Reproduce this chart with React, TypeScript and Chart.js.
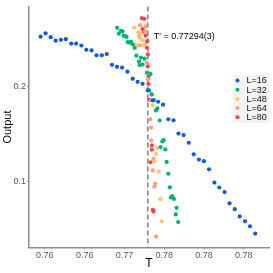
import { useEffect, useRef } from "react";
import { Chart, registerables } from "chart.js";

Chart.register(...registerables);

const T16 = [0.75947,0.76009,0.76074,0.76136,0.76202,0.76264,0.76331,0.76393,0.76459,0.76521,0.76587,0.76649,0.76716,0.76778,0.76844,0.76906,0.76971,0.77038,0.77104,0.77166,0.77228,0.77294,0.77356,0.77423,0.77485,0.77551,0.77617,0.77679,0.77743,0.77808,0.7787,0.77936,0.77998,0.78063,0.7813,0.78192,0.78258,0.7832,0.78386,0.78448,0.78515,0.78577,0.78643];
const O16 = [0.2525,0.2560,0.2519,0.2483,0.2491,0.2498,0.2452,0.2452,0.2432,0.2387,0.2380,0.2328,0.2328,0.2342,0.2228,0.2207,0.2200,0.2156,0.2083,0.2050,0.2029,0.1959,0.1855,0.1840,0.1809,0.1656,0.1645,0.1505,0.1490,0.1409,0.1287,0.1232,0.1215,0.1129,0.0990,0.0938,0.0890,0.0772,0.0710,0.0634,0.0582,0.0530,0.0454];

const T32 = [0.76909,0.76931,0.76955,0.76976,0.76989,0.77014,0.77026,0.77042,0.77063,0.77083,0.77104,0.77129,0.7715,0.77182,0.77191,0.77207,0.77228,0.77253,0.77282,0.77328,0.77311,0.77344,0.77371,0.77396,0.77414,0.77443,0.77455,0.77476,0.77493,0.77514,0.7753,0.77551,0.7757,0.77584,0.77601,0.77622,0.77644,0.77656,0.77675];
const O32 = [0.2618,0.2556,0.2587,0.2581,0.2535,0.2529,0.2522,0.2467,0.2463,0.2470,0.2444,0.2408,0.2325,0.2262,0.2226,0.2304,0.2231,0.2294,0.2145,0.2131,0.1959,0.1917,0.1858,0.1749,0.1770,0.1643,0.1363,0.1422,0.1436,0.1339,0.1207,0.1083,0.0940,0.0834,0.0849,0.0818,0.0655,0.0724,0.0575];

const T48 = [0.77123,0.77175,0.77204,0.77195,0.77228,0.77148,0.77241,0.77315,0.77356,0.77418,0.77398,0.77377,0.7743,0.77452,0.77468];
const O48 = [0.2620,0.2571,0.2553,0.2506,0.2488,0.2439,0.2436,0.2138,0.1803,0.1355,0.1290,0.1215,0.1106,0.0815,0.0582];

const T64 = [0.77197,0.77266,0.77187,0.77262,0.77191,0.77257,0.77282,0.77297,0.77336,0.77324,0.77336,0.77336,0.77365,0.77356,0.77386,0.77377,0.77398];
const O64 = [0.2646,0.2633,0.2535,0.2581,0.2432,0.2442,0.2252,0.2076,0.1855,0.1656,0.1567,0.1433,0.1239,0.1118,0.0979,0.0948,0.0421];

const T80 = [0.7722,0.77249,0.77228,0.77244,0.77266,0.77287,0.77282,0.77294,0.77294,0.77303,0.77303,0.7734,0.77311,0.77344,0.77344,0.77328,0.77356,0.77365];
const O80 = [0.2719,0.2712,0.2605,0.2577,0.2535,0.2477,0.2408,0.2338,0.2211,0.2107,0.2027,0.1917,0.1861,0.1381,0.1336,0.1204,0.0703,0.0686];

const SERIES_LABELS = ["L=16", "L=32", "L=48", "L=64", "L=80"];
const SERIES_COLORS = ["#1459E6", "#00B377", "#FFC566", "#FF9B7D", "#F5424B"];

const X_TICKS = [0.76, 0.765, 0.77, 0.775, 0.78, 0.785];
const X_TICK_LABELS = ["0.76", "0.76", "0.77", "0.78", "0.78", "0.78"];
const Y_TICKS = [0.1, 0.2];
const Y_TICK_LABELS = ["0.1", "0.2"];

const T_PRIME = 0.77294;
const T_PRIME_LABEL = "T' = 0.77294(3)";

const FONT = "'Liberation Sans', Arial, Helvetica, sans-serif";

function pts(xs: number[], ys: number[]) {
  return xs.map((x, i) => ({ x, y: ys[i] }));
}

const overlayPlugin = {
  id: "overlay",
  beforeDatasetsDraw(chart: any) {
    const { ctx, chartArea, scales } = chart;
    const px = scales.x.getPixelForValue(T_PRIME);
    ctx.save();
    ctx.strokeStyle = "#777777";
    ctx.lineWidth = 1.4;
    ctx.setLineDash([5, 3]);
    ctx.beginPath();
    ctx.moveTo(px, chartArea.top);
    ctx.lineTo(px, chartArea.bottom);
    ctx.stroke();
    ctx.setLineDash([]);
    ctx.fillStyle = "#000";
    ctx.font = `9px ${FONT}`;
    ctx.textAlign = "left";
    ctx.textBaseline = "middle";
    ctx.fillText(T_PRIME_LABEL, px + 6, 37);
    ctx.restore();
  },
  afterDatasetsDraw(chart: any) {
    const { ctx } = chart;
    ctx.save();
    ctx.fillStyle = "#F3F3F3";
    ctx.fillRect(233, 75, 36, 48);
    ctx.font = `9px ${FONT}`;
    ctx.textAlign = "left";
    ctx.textBaseline = "middle";
    SERIES_LABELS.forEach((lab, i) => {
      const y = 80.5 + 9.2 * i;
      ctx.fillStyle = SERIES_COLORS[i];
      ctx.beginPath();
      ctx.arc(237.5, y, 2, 0, Math.PI * 2);
      ctx.fill();
      ctx.fillStyle = "#111";
      ctx.fillText(lab, 246.5, y + 0.5);
    });
    ctx.restore();
  },
};

export default function App() {
  const ref = useRef<HTMLCanvasElement | null>(null);
  useEffect(() => {
    if (!ref.current) return;
    Chart.defaults.font.family = FONT;
    const xs = [T16, T32, T48, T64, T80];
    const ys = [O16, O32, O48, O64, O80];
    const chart = new Chart(ref.current, {
      type: "scatter",
      data: {
        datasets: SERIES_LABELS.map((label, i) => ({
          label,
          data: pts(xs[i], ys[i]),
          backgroundColor: SERIES_COLORS[i],
          borderWidth: 0,
          pointRadius: 2.1,
        })),
      },
      options: {
        responsive: false,
        animation: false,
        layout: { padding: { top: 3, right: 1, left: 0, bottom: 0 } },
        plugins: { legend: { display: false }, tooltip: { enabled: false } },
        scales: {
          x: {
            type: "linear",
            min: 0.75801,
            max: 0.78816,
            afterBuildTicks: (s: any) => {
              s.ticks = X_TICKS.map((v) => ({ value: v }));
            },
            afterFit: (s: any) => {
              s.height = 25.3;
            },
            grid: { drawOnChartArea: false, drawTicks: true, tickLength: 2, color: "#8c8c8c" },
            border: { display: true, color: "#8c8c8c", width: 1.5 },
            ticks: {
              color: "#555",
              font: { size: 9 },
              padding: 0,
              maxRotation: 0,
              autoSkip: false,
              callback: (_v: any, i: number) => X_TICK_LABELS[i],
            },
            title: { display: true, text: "T", color: "#000", font: { size: 12 }, padding: { top: 0, bottom: 2.5 } },
          },
          y: {
            type: "linear",
            min: 0.0305,
            max: 0.2843,
            afterBuildTicks: (s: any) => {
              s.ticks = Y_TICKS.map((v) => ({ value: v }));
            },
            afterFit: (s: any) => {
              s.width = 29;
            },
            grid: { drawOnChartArea: false, drawTicks: true, tickLength: 2, color: "#8c8c8c" },
            border: { display: true, color: "#8c8c8c", width: 1.5 },
            ticks: {
              color: "#555",
              font: { size: 9 },
              padding: 1,
              autoSkip: false,
              callback: (_v: any, i: number) => Y_TICK_LABELS[i],
            },
            title: { display: true, text: "Output", color: "#000", font: { size: 11 }, padding: { top: 1, bottom: 0 } },
          },
        },
      },
      plugins: [overlayPlugin],
    });
    return () => chart.destroy();
  }, []);
  return (
    <div style={{ position: "fixed", left: 0, top: 0, width: 273, height: 273, background: "#fff" }}>
      <canvas ref={ref} width={273} height={273} style={{ display: "block" }} />
    </div>
  );
}
